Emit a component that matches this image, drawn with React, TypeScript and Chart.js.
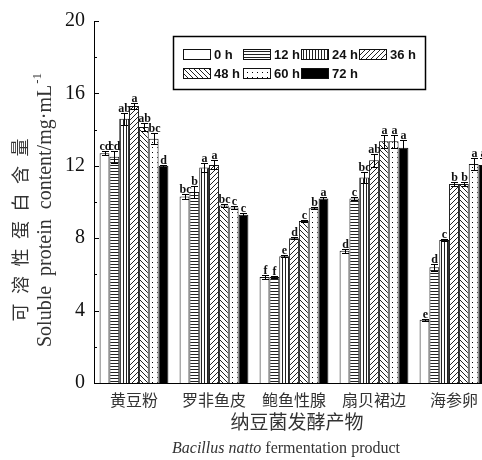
import React, { useEffect, useRef } from 'react';
import { Chart, registerables } from 'chart.js';
Chart.register(...registerables);

const categories = ['黄豆粉', '罗非鱼皮', '鲍鱼性腺', '扇贝裙边', '海参卵'];
const seriesLabels = ['0 h', '12 h', '24 h', '36 h', '48 h', '60 h', '72 h'];
const yTicks = [0, 4, 8, 12, 16, 20];

const h0 = [12.7, 10.3, 5.85, 7.3, 3.5];
const h12 = [12.5, 10.55, 5.85, 10.2, 6.4];
const h24 = [14.6, 11.9, 7.0, 11.35, 7.9];
const h36 = [15.3, 12.05, 8.0, 12.3, 11.0];
const h48 = [14.15, 9.8, 8.95, 13.35, 11.0];
const h60 = [13.5, 9.7, 9.65, 13.35, 12.1];
const h72 = [12.0, 9.3, 10.2, 13.0, 12.05];

const e0 = [0.12, 0.15, 0.1, 0.1, 0.05];
const e12 = [0.32, 0.35, 0.05, 0.1, 0.2];
const e24 = [0.32, 0.25, 0.05, 0.28, 0.05];
const e36 = [0.18, 0.25, 0.05, 0.35, 0.1];
const e48 = [0.23, 0.1, 0.05, 0.37, 0.1];
const e60 = [0.3, 0.1, 0.05, 0.37, 0.35];
const e72 = [0.05, 0.1, 0.1, 0.4, 0.4];

const l0 = ['cd', 'bc', 'f', 'd', 'e'];
const l12 = ['cd', 'b', 'f', 'c', 'd'];
const l24 = ['ab', 'a', 'e', 'bc', 'c'];
const l36 = ['a', 'a', 'd', 'ab', 'b'];
const l48 = ['ab', 'bc', 'c', 'a', 'b'];
const l60 = ['bc', 'c', 'b', 'a', 'a'];
const l72 = ['d', 'c', 'a', 'a', 'a'];

const values = [h0, h12, h24, h36, h48, h60, h72];
const errors = [e0, e12, e24, e36, e48, e60, e72];
const letters = [l0, l12, l24, l36, l48, l60, l72];
const patternKinds = ['none', 'h', 'v', 'fwd', 'back', 'dots', 'solid'];

function makeFill(kind: string): any {
  if (kind === 'none') return '#ffffff';
  if (kind === 'solid') return '#000000';
  const c = document.createElement('canvas');
  let w = 4, h = 4;
  if (kind === 'h') { w = 4; h = 3; }
  if (kind === 'v') { w = 3; h = 4; }
  if (kind === 'fwd' || kind === 'back') { w = 5; h = 5; }
  if (kind === 'dots') { w = 5; h = 5; }
  c.width = w; c.height = h;
  const g = c.getContext('2d')!;
  g.fillStyle = '#fff';
  g.fillRect(0, 0, w, h);
  g.fillStyle = '#222';
  if (kind === 'h') g.fillRect(0, 0, w, 1);
  if (kind === 'v') g.fillRect(0, 0, 1, h);
  if (kind === 'fwd') for (let i = 0; i < 5; i++) g.fillRect(4 - i, i, 1, 1);
  if (kind === 'back') for (let i = 0; i < 5; i++) g.fillRect(i, i, 1, 1);
  if (kind === 'dots') { g.fillStyle = '#000'; g.fillRect(2, 2, 1, 1); }
  return g.createPattern(c, 'repeat');
}

export default function App() {
  const ref = useRef<HTMLCanvasElement>(null);
  useEffect(() => {
    const fills = patternKinds.map(makeFill);
    const datasets = seriesLabels.map((lab, i) => ({
      label: lab,
      data: values[i],
      backgroundColor: fills[i],
      borderColor: '#111',
      borderWidth: 1,
      borderSkipped: 'start' as const,
      categoryPercentage: 0.86,
      barPercentage: 1.0,
    }));

    const extras = {
      id: 'extras',
      afterDatasetsDraw(chart: any) {
        const ctx = chart.ctx;
        const ys = chart.scales.y;
        ctx.save();
        chart.data.datasets.forEach((ds: any, i: number) => {
          const meta = chart.getDatasetMeta(i);
          meta.data.forEach((el: any, j: number) => {
            const v = ds.data[j];
            const e = errors[i][j];
            const x = Math.round(el.x) + 0.5;
            const yt = Math.round(ys.getPixelForValue(v + e)) + 0.5;
            const yb = Math.round(ys.getPixelForValue(v - e)) + 0.5;
            ctx.strokeStyle = '#000';
            ctx.lineWidth = 1;
            ctx.beginPath();
            ctx.moveTo(x, yt); ctx.lineTo(x, yb);
            ctx.moveTo(x - 3.5, yt); ctx.lineTo(x + 3.5, yt);
            ctx.moveTo(x - 3.5, yb); ctx.lineTo(x + 3.5, yb);
            ctx.stroke();
            ctx.fillStyle = '#111';
            ctx.font = 'bold 12px "Liberation Serif"';
            ctx.textAlign = 'center';
            ctx.textBaseline = 'bottom';
            ctx.fillText(letters[i][j], x, yt + 1);
          });
        });
        ctx.restore();
      },
      afterDraw(chart: any) {
        const ctx = chart.ctx;
        const ys = chart.scales.y;
        const left = chart.chartArea.left;
        ctx.save();
        // inward y ticks
        ctx.strokeStyle = '#000';
        ctx.lineWidth = 1;
        ctx.beginPath();
        for (let v = 0; v <= 20; v += 2) {
          const y = Math.round(ys.getPixelForValue(v)) + 0.5;
          const len = v % 4 === 0 ? 5 : 3;
          ctx.moveTo(left, y); ctx.lineTo(left + len, y);
        }
        ctx.stroke();

        // legend box
        ctx.lineWidth = 1.5;
        ctx.strokeRect(173.5, 36.5, 252, 53);
        const cols = [183, 243, 301, 359];
        const rows = [49, 68];
        chart.data.datasets.forEach((ds: any, i: number) => {
          const cx = cols[i % 4];
          const cy = rows[Math.floor(i / 4)];
          ctx.fillStyle = ds.backgroundColor;
          ctx.fillRect(cx, cy, 27, 10);
          ctx.lineWidth = 1;
          ctx.strokeStyle = '#111';
          ctx.strokeRect(cx + 0.5, cy + 0.5, 27, 10);
          ctx.fillStyle = '#111';
          ctx.font = 'bold 13px "Liberation Sans"';
          ctx.textAlign = 'left';
          ctx.textBaseline = 'middle';
          ctx.fillText(ds.label, cx + 31, cy + 6);
        });

        // y axis titles
        ctx.fillStyle = '#333';
        ctx.save();
        ctx.translate(20, 230);
        ctx.rotate(-Math.PI / 2);
        ctx.font = '18px "Noto Sans CJK SC"';
        ctx.textAlign = 'center';
        ctx.textBaseline = 'middle';
        const cn = '可溶性蛋白含量';
        const step = 27.5;
        for (let k = 0; k < cn.length; k++) {
          ctx.fillText(cn[k], (k - (cn.length - 1) / 2) * step, 0);
        }
        ctx.restore();

        ctx.save();
        ctx.translate(46, 210);
        ctx.rotate(-Math.PI / 2);
        ctx.font = '20px "Liberation Serif"';
        ctx.textBaseline = 'middle';
        ctx.textAlign = 'left';
        const words = ['Soluble', 'protein', 'content/mg·mL'];
        const ww = words.map((w) => ctx.measureText(w).width);
        ctx.font = '13px "Liberation Serif"';
        const supW = ctx.measureText('-1').width;
        const target = 274;
        const gap = Math.max(5, (target - supW - 1 - ww.reduce((a, b) => a + b, 0)) / 2);
        let px = -target / 2;
        ctx.font = '20px "Liberation Serif"';
        words.forEach((w, k) => {
          ctx.fillText(w, px, 0);
          px += ww[k] + (k < words.length - 1 ? gap : 0);
        });
        ctx.font = '13px "Liberation Serif"';
        ctx.fillText('-1', px + 1, -8);
        ctx.restore();

        // x axis titles
        ctx.font = '19px "Noto Sans CJK SC"';
        ctx.textAlign = 'center';
        ctx.textBaseline = 'middle';
        ctx.fillText('纳豆菌发酵产物', 297, 422);

        ctx.textAlign = 'left';
        ctx.textBaseline = 'alphabetic';
        const parts = [
          { t: 'Bacillus', f: 'italic 16px "Liberation Serif"' },
          { t: 'natto', f: 'italic 16px "Liberation Serif"' },
          { t: 'fermentation', f: '16px "Liberation Serif"' },
          { t: 'product', f: '16px "Liberation Serif"' },
        ];
        const pw = parts.map((p) => { ctx.font = p.f; return ctx.measureText(p.t).width; });
        const tot = 228;
        const g2 = Math.max(4, (tot - pw.reduce((a, b) => a + b, 0)) / 3);
        let qx = 286 - tot / 2;
        parts.forEach((p, k) => {
          ctx.font = p.f;
          ctx.fillText(p.t, qx, 453);
          qx += pw[k] + g2;
        });
        ctx.restore();
      },
    };

    const chart = new Chart(ref.current!, {
      type: 'bar',
      data: { labels: categories, datasets },
      options: {
        responsive: false,
        animation: false,
        devicePixelRatio: 1,
        layout: { padding: { top: 20, right: 6, left: 0, bottom: 0 } },
        plugins: { legend: { display: false }, tooltip: { enabled: false } },
        scales: {
          x: {
            grid: { display: false, drawTicks: false },
            border: { display: true, color: '#000', width: 1 },
            ticks: {
              font: { family: '"Noto Sans CJK SC"', size: 16 },
              color: '#333',
              padding: 7,
              maxRotation: 0,
            },
            afterFit: (s: any) => { s.height = 77; },
          },
          y: {
            min: 0,
            max: 20,
            grid: { display: false, drawTicks: false },
            border: { display: true, color: '#000', width: 1 },
            ticks: {
              stepSize: 2,
              font: { family: '"Liberation Serif"', size: 20 },
              color: '#111',
              padding: 9,
              callback: (v: any) => (yTicks.includes(Number(v)) ? String(v) : ''),
            },
            afterFit: (s: any) => { s.width = 94; },
          },
        },
      },
      plugins: [extras],
    });
    return () => chart.destroy();
  }, []);

  return (
    <div style={{ position: 'fixed', left: 0, top: 0, width: 482, height: 460, overflow: 'hidden', background: '#fff' }}>
      <canvas ref={ref} width={500} height={460} style={{ display: 'block', width: 500, height: 460 }} />
    </div>
  );
}
